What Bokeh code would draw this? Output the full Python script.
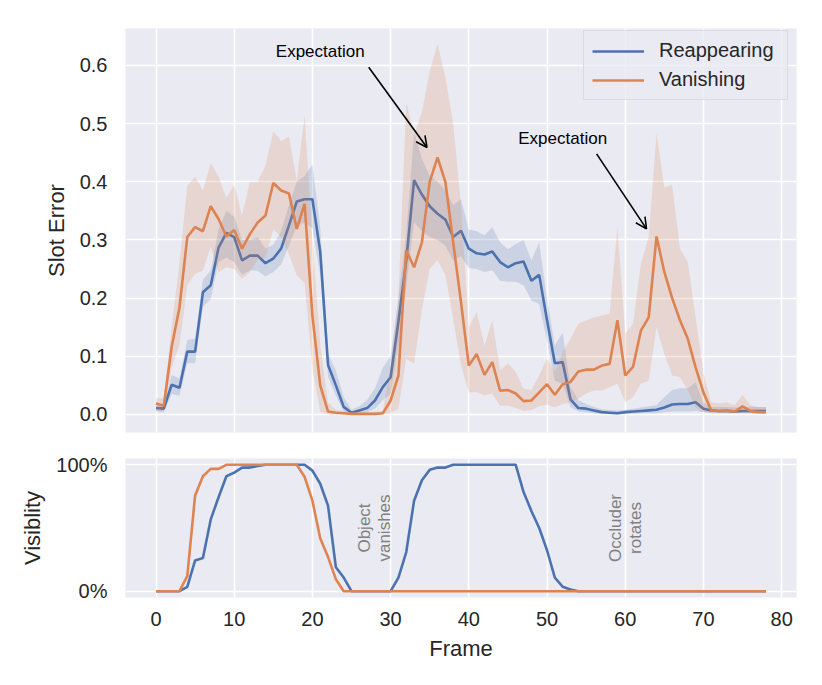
import math
from bokeh.plotting import figure
from bokeh.layouts import column
from bokeh.models import (FixedTicker, PrintfTickFormatter, NumeralTickFormatter,
                          Label, Arrow, OpenHead, Range1d)
from bokeh.embed import file_html
from bokeh.resources import INLINE

frames = list(range(79))

reap_mean = [0.011, 0.010, 0.051, 0.046, 0.108, 0.108, 0.210, 0.222, 0.287, 0.312,
             0.305, 0.265, 0.273, 0.273, 0.260, 0.268, 0.285, 0.325, 0.366, 0.370,
             0.370, 0.280, 0.085, 0.050, 0.013, 0.003, 0.007, 0.011, 0.024, 0.047,
             0.064, 0.160, 0.265, 0.403, 0.378, 0.358, 0.345, 0.335, 0.305, 0.316,
             0.285, 0.277, 0.275, 0.280, 0.262, 0.253, 0.260, 0.263, 0.230, 0.240,
             0.162, 0.088, 0.090, 0.026, 0.011, 0.010, 0.007, 0.004, 0.003, 0.002,
             0.004, 0.005, 0.006, 0.007, 0.008, 0.012, 0.017, 0.018, 0.018, 0.021,
             0.010, 0.007, 0.006, 0.006, 0.005, 0.006, 0.006, 0.006, 0.006]
reap_lo = [0.006, 0.005, 0.035, 0.032, 0.088, 0.088, 0.185, 0.198, 0.262, 0.270,
           0.262, 0.240, 0.248, 0.247, 0.237, 0.245, 0.258, 0.290, 0.325, 0.330,
           0.320, 0.240, 0.065, 0.032, 0.005, 0.000, 0.002, 0.004, 0.010, 0.025,
           0.035, 0.120, 0.220, 0.330, 0.315, 0.305, 0.300, 0.290, 0.265, 0.272,
           0.252, 0.250, 0.245, 0.248, 0.230, 0.228, 0.228, 0.222, 0.196, 0.190,
           0.127, 0.058, 0.053, 0.013, 0.005, 0.004, 0.002, 0.001, 0.001, 0.000,
           0.001, 0.001, 0.002, 0.002, 0.002, 0.004, 0.005, 0.005, 0.005, 0.006,
           0.004, 0.003, 0.002, 0.002, 0.002, 0.002, 0.002, 0.002, 0.002]
reap_hi = [0.016, 0.016, 0.068, 0.062, 0.128, 0.130, 0.232, 0.248, 0.318, 0.350,
           0.340, 0.300, 0.300, 0.305, 0.285, 0.292, 0.315, 0.360, 0.400, 0.410,
           0.430, 0.320, 0.105, 0.075, 0.030, 0.008, 0.014, 0.025, 0.045, 0.080,
           0.100, 0.200, 0.310, 0.485, 0.440, 0.410, 0.400, 0.385, 0.360, 0.370,
           0.318, 0.315, 0.308, 0.322, 0.296, 0.284, 0.293, 0.300, 0.265, 0.296,
           0.199, 0.119, 0.141, 0.047, 0.025, 0.018, 0.013, 0.009, 0.008, 0.007,
           0.008, 0.010, 0.012, 0.014, 0.016, 0.030, 0.042, 0.045, 0.045, 0.055,
           0.020, 0.013, 0.013, 0.013, 0.012, 0.013, 0.013, 0.013, 0.013]

van_mean = [0.019, 0.015, 0.116, 0.184, 0.305, 0.322, 0.315, 0.358, 0.336, 0.306,
            0.317, 0.285, 0.310, 0.330, 0.342, 0.398, 0.385, 0.380, 0.319, 0.362,
            0.170, 0.050, 0.005, 0.003, 0.002, 0.001, 0.001, 0.001, 0.001, 0.002,
            0.024, 0.067, 0.282, 0.253, 0.296, 0.400, 0.442, 0.400, 0.296, 0.193,
            0.084, 0.104, 0.068, 0.090, 0.041, 0.042, 0.036, 0.023, 0.024, 0.038,
            0.052, 0.034, 0.052, 0.056, 0.074, 0.077, 0.077, 0.084, 0.087, 0.162,
            0.067, 0.082, 0.144, 0.167, 0.306, 0.245, 0.200, 0.162, 0.130, 0.081,
            0.038, 0.007, 0.006, 0.007, 0.005, 0.014, 0.006, 0.004, 0.004]
van_lo = [0.005, 0.003, 0.080, 0.120, 0.222, 0.242, 0.247, 0.288, 0.245, 0.253,
          0.250, 0.233, 0.245, 0.267, 0.270, 0.319, 0.305, 0.276, 0.239, 0.227,
          0.080, 0.005, 0.000, 0.000, 0.000, 0.000, 0.000, 0.000, 0.000, 0.000,
          0.002, 0.010, 0.096, 0.087, 0.180, 0.250, 0.265, 0.240, 0.164, 0.084,
          0.038, 0.038, 0.033, 0.036, 0.015, 0.015, 0.011, 0.006, 0.008, 0.014,
          0.017, 0.012, 0.018, 0.021, 0.027, 0.036, 0.041, 0.041, 0.047, 0.053,
          0.021, 0.030, 0.053, 0.058, 0.150, 0.104, 0.067, 0.064, 0.041, 0.013,
          0.004, 0.002, 0.002, 0.002, 0.002, 0.003, 0.002, 0.001, 0.001]
van_hi = [0.028, 0.028, 0.150, 0.260, 0.393, 0.409, 0.385, 0.432, 0.409, 0.372,
          0.395, 0.342, 0.400, 0.400, 0.428, 0.487, 0.470, 0.478, 0.402, 0.514,
          0.300, 0.120, 0.020, 0.008, 0.006, 0.004, 0.004, 0.004, 0.005, 0.006,
          0.080, 0.200, 0.537, 0.480, 0.520, 0.590, 0.637, 0.580, 0.500, 0.360,
          0.150, 0.176, 0.118, 0.162, 0.076, 0.088, 0.073, 0.044, 0.042, 0.067,
          0.096, 0.073, 0.107, 0.130, 0.156, 0.162, 0.167, 0.170, 0.173, 0.322,
          0.139, 0.156, 0.259, 0.305, 0.483, 0.390, 0.395, 0.285, 0.262, 0.167,
          0.070, 0.021, 0.019, 0.021, 0.016, 0.034, 0.016, 0.013, 0.013]

reap_vis = [0, 0, 0, 0, 0.035, 0.243, 0.262, 0.568, 0.743, 0.91,
            0.938, 0.978, 0.978, 0.99, 1, 1, 1, 1, 1, 1,
            0.954, 0.85, 0.676, 0.189, 0.108, 0, 0, 0, 0, 0,
            0, 0.108, 0.31, 0.716, 0.878, 0.96, 0.978, 0.978, 1, 1,
            1, 1, 1, 1, 1, 1, 1, 0.784, 0.635, 0.5,
            0.324, 0.108, 0.035, 0.014] + [0] * 25
van_vis = [0, 0, 0, 0, 0.12, 0.757, 0.91, 0.968, 0.968, 1,
           1, 1, 1, 1, 1, 1, 1, 1, 1, 0.905,
           0.716, 0.419, 0.27, 0.095] + [0] * 55

x_ticks = [0, 10, 20, 30, 40, 50, 60, 70, 80]
err_ticks = [0.0, 0.1, 0.2, 0.3, 0.4, 0.5, 0.6]
vis_ticks = [0, 1]

BLUE = "#4C72B0"
ORANGE = "#DD8452"
BG = "#EAEAF2"
TXT = "#262626"
FONT = "Liberation Sans"


def style(p):
    p.background_fill_color = BG
    p.border_fill_color = "white"
    p.outline_line_color = None
    for g in (p.xgrid, p.ygrid):
        g.grid_line_color = "white"
        g.grid_line_width = 1.6
    for ax in p.axis:
        ax.axis_line_color = None
        ax.major_tick_line_color = None
        ax.minor_tick_line_color = None
        ax.major_tick_out = 0
        ax.major_tick_in = 0
        ax.minor_tick_out = 0
        ax.major_label_text_font = FONT
        ax.major_label_text_font_size = "20px"
        ax.major_label_text_color = TXT
        ax.axis_label_text_font = FONT
        ax.axis_label_text_font_size = "22px"
        ax.axis_label_text_font_style = "normal"
        ax.axis_label_text_color = TXT


p1 = figure(frame_width=671, frame_height=404, output_backend="svg", toolbar_location=None,
            x_range=Range1d(-3.9, 81.9), y_range=Range1d(-0.031, 0.6635),
            min_border_left=125, min_border_right=10, min_border_top=28, min_border_bottom=13)
style(p1)
p1.xaxis.visible = False
p1.xgrid.ticker = FixedTicker(ticks=x_ticks)
p1.yaxis.ticker = FixedTicker(ticks=err_ticks)
p1.yaxis.formatter = PrintfTickFormatter(format="%.1f")
p1.yaxis.axis_label = "Slot Error"
p1.yaxis.major_label_standoff = 18
p1.yaxis.axis_label_standoff = 8

p1.line(frames, reap_mean, line_color=BLUE, line_width=2.6, legend_label="Reappearing")
p1.varea(x=frames, y1=reap_lo, y2=reap_hi, fill_color=BLUE, fill_alpha=0.2)
p1.line(frames, van_mean, line_color=ORANGE, line_width=2.6, legend_label="Vanishing")
p1.varea(x=frames, y1=van_lo, y2=van_hi, fill_color=ORANGE, fill_alpha=0.2)

lg = p1.legend[0]
lg.location = (458, 332)
lg.padding = 8
lg.spacing = 6
lg.glyph_width = 52
lg.glyph_height = 20
lg.label_height = 20
lg.label_width = 120
lg.label_standoff = 15
lg.label_text_font = FONT
lg.label_text_font_size = "20px"
lg.label_text_color = TXT
lg.background_fill_color = BG
lg.background_fill_alpha = 0.8
lg.border_line_color = "#CCCCCC"
lg.border_line_width = 1
lg.margin = 0

# annotations
ann_text = [("Expectation", 21.0, 0.624), ("Expectation", 52.0, 0.474)]
ann_arrows = [(27.2, 0.597, 34.65, 0.459), (56.34, 0.448, 62.72, 0.319)]
for t, x, y in ann_text:
    p1.add_layout(Label(x=x, y=y, text=t, text_align="center", text_baseline="middle",
                        text_font=FONT, text_font_size="17px", text_color="black"))
for xs, ys, xe, ye in ann_arrows:
    p1.add_layout(Arrow(x_start=xs, y_start=ys, x_end=xe, y_end=ye, line_width=1.6,
                        line_color="black",
                        end=OpenHead(size=11, line_width=1.6, line_color="black")))

p2 = figure(frame_width=671, frame_height=139, output_backend="svg", toolbar_location=None,
            x_range=Range1d(-3.9, 81.9), y_range=Range1d(-0.05, 1.05),
            min_border_left=125, min_border_right=10, min_border_top=13, min_border_bottom=8)
style(p2)
p2.xaxis.ticker = FixedTicker(ticks=x_ticks)
p2.yaxis.ticker = FixedTicker(ticks=vis_ticks)
p2.yaxis.formatter = NumeralTickFormatter(format="0%")
p2.xaxis.axis_label = "Frame"
p2.yaxis.axis_label = "Visiblity"
p2.yaxis.major_label_standoff = 18
p2.yaxis.axis_label_standoff = 8
p2.xaxis.major_label_standoff = 14
p2.xaxis.axis_label_standoff = 7

p2.line(frames, reap_vis, line_color=BLUE, line_width=2.6)
p2.line(frames, van_vis, line_color=ORANGE, line_width=2.6)

vis_notes = [(28.0, 0.5, ["Object", "vanishes"]), (60.0, 0.5, ["Occluder", "rotates"])]
for x, y, lines in vis_notes:
    for i, ln in enumerate(lines):
        p2.add_layout(Label(x=x, y=y, text=ln, angle=math.pi / 2, text_align="center",
                            text_baseline="middle", x_offset=-10 + 20 * i,
                            text_font=FONT, text_font_size="17px", text_color="#808080"))

layout = column(p1, p2, spacing=0)
open("out.html", "w").write(file_html(layout, INLINE))
